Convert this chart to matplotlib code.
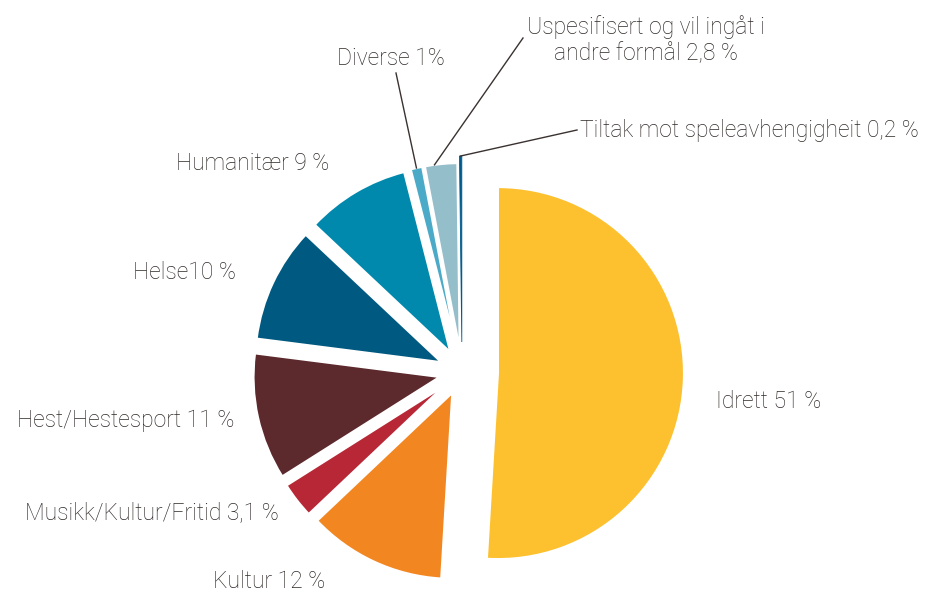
import math

import matplotlib
matplotlib.use("Agg")
import matplotlib.pyplot as plt

# share of spending, clockwise from 12 o'clock
labels = [
    "Idrett 51 %",
    "Kultur 12 %",
    "Musikk/Kultur/Fritid 3,1 %",
    "Hest/Hestesport 11 %",
    "Helse10 %",
    "Humanitær 9 %",
    "Diverse 1%",
    "Uspesifisert og vil ingåt i\nandre formål 2,8 %",
    "Tiltak mot speleavhengigheit 0,2 %",
]
values = [51, 12, 3.1, 11, 10, 9, 1, 2.8, 0.2]
colors = ["#FDC02F", "#F28722", "#B72735", "#5C292D", "#005980",
          "#0089AC", "#4BAAC8", "#95BECB", "#005B8C"]

W, H = 929, 595
CX, CY, R = 462, 372, 186     # pixel coords, y down
TEXT = "#2e2927"


def py(y):
    return H - y


fig = plt.figure(figsize=(W / 100, H / 100), dpi=100)
ax = fig.add_axes([0, 0, 1, 1])

explode = [36, 23, 23, 23, 23, 23, 23, 23, 30]
wedges, _ = ax.pie(values, colors=colors, startangle=90, counterclock=False,
                   radius=R, center=(CX, py(CY)), explode=explode,
                   wedgeprops=dict(edgecolor="white", linewidth=1.5))
# the thinnest slice would vanish under the white edge
wedges[-1].set_edgecolor(colors[-1])
wedges[-1].set_linewidth(0.6)
ax.set_xlim(0, W)
ax.set_ylim(0, H)
ax.set_aspect("equal")
ax.axis("off")

font = dict(family="Roboto", weight="light", fontsize=16.5, color=TEXT)

# label placement (pixel coords: x, y, ha)
pos = [
    (716, 402, "left"),
    (325, 582, "right"),
    (279, 513, "right"),
    (234, 420, "right"),
    (236, 272, "right"),
    (329, 163, "right"),
    (445, 58, "right"),
    (646, 40, "center"),
    (580, 130, "left"),
]
for lab, (x, y, ha) in zip(labels, pos):
    ax.text(x, py(y), lab, ha=ha, va="center", linespacing=1.15, **font)

# leader lines for the thin slices
starts = {6: (396, 73), 7: (523, 38), 8: (577, 130)}
for i, (sx, sy) in starts.items():
    w = wedges[i]
    if i == 7:
        mid = math.radians(w.theta2 - 3)
    else:
        mid = math.radians(0.5 * (w.theta1 + w.theta2))
    ex = w.center[0] + w.r * math.cos(mid)
    ey = w.center[1] + w.r * math.sin(mid)
    ax.plot([sx, ex], [py(sy), ey], color="#3a3230", lw=1.0)

fig.savefig("out.png", dpi=100)
